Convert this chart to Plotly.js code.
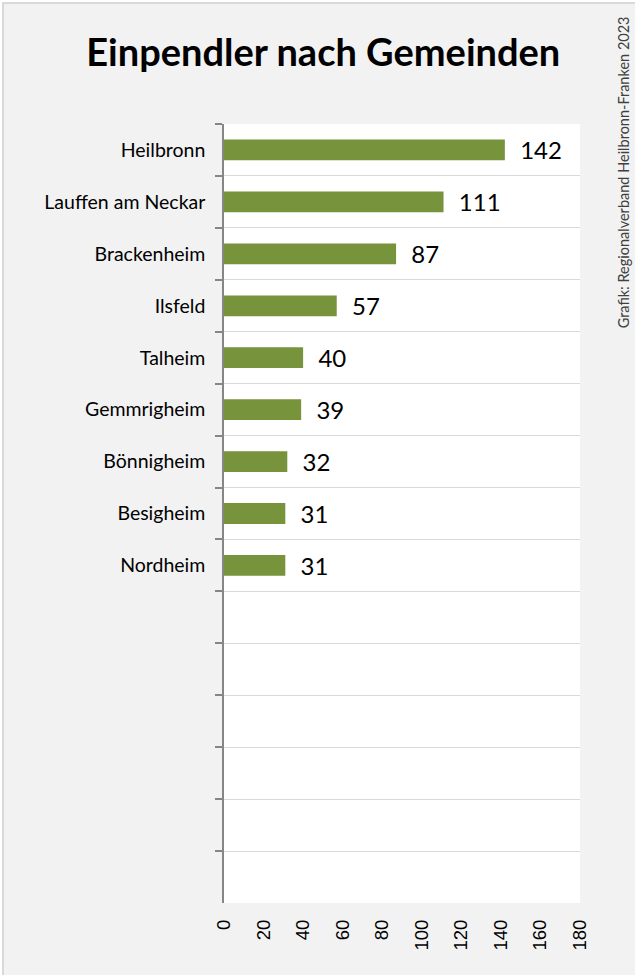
<!DOCTYPE html>
<html>
<head>
<meta charset="utf-8">
<script src="https://cdn.plot.ly/plotly-3.0.1.min.js"></script>
<style>
  html, body { margin: 0; padding: 0; background: #ffffff; }
  #wrap { position: absolute; left: 2px; top: 2px; width: 633px; height: 973px;
          border-left: 2px solid #d9d9d9; border-top: 2px solid #d9d9d9; box-sizing: border-box; background: #f2f2f2; }
  #chart { position: absolute; left: 0; top: 0; width: 631px; height: 971px; }
</style>
</head>
<body>
<div id="wrap"><div id="chart"></div></div>
<script>
// Data
const categories = ["Heilbronn", "Lauffen am Neckar", "Brackenheim", "Ilsfeld", "Talheim",
                    "Gemmrigheim", "Bönnigheim", "Besigheim", "Nordheim"];
const values = [142, 111, 87, 57, 40, 39, 32, 31, 31];
const emptySlots = 6;
const xTicks = [0, 20, 40, 60, 80, 100, 120, 140, 160, 180];
const titleText = "Einpendler nach Gemeinden";
const sourceText = "Grafik: Regionalverband Heilbronn-Franken 2023";

// Placeholder (blank) categories for the empty slots
const blanks = [];
for (let i = 1; i <= emptySlots; i++) blanks.push("\u200b".repeat(i));
const allCats = categories.concat(blanks);

const trace = {
  type: "bar",
  orientation: "h",
  x: values,
  y: categories,
  width: 0.4,
  marker: { color: "#77933c" },
  text: values.map(v => "\u00a0\u00a0" + v),
  textposition: "outside",
  constraintext: "none",
  textfont: { family: "Lato, 'Open Sans', sans-serif", size: 24, color: "#000000" },
  cliponaxis: false,
  hoverinfo: "x+y"
};

const layout = {
  width: 631,
  height: 971,
  paper_bgcolor: "#f2f2f2",
  plot_bgcolor: "#ffffff",
  margin: { l: 220, r: 55, t: 120, b: 72 },
  showlegend: false,
  title: {
    text: "<b>" + titleText + "</b>",
    font: { family: "Lato, 'Open Sans', sans-serif", size: 38, color: "#000000" },
    xref: "container", yref: "container",
    x: 0.506, xanchor: "center",
    y: 0.950, yanchor: "middle"
  },
  xaxis: {
    range: [0, 180],
    tickmode: "array",
    tickvals: xTicks,
    ticktext: xTicks.map(String),
    tickangle: -90,
    tickfont: { family: "'Liberation Sans', Arial, sans-serif", size: 18.5, color: "#000000" },
    showgrid: false,
    zeroline: false,
    showline: false,
    ticks: "",
    ticklabelstandoff: 12,
    fixedrange: true
  },
  yaxis: {
    type: "category",
    categoryorder: "array",
    categoryarray: allCats,
    range: [allCats.length - 0.5, -0.5],
    tickson: "boundaries",
    dtick: 1,
    ticks: "outside",
    ticklen: 7,
    tickwidth: 1.5,
    tickcolor: "#868686",
    showline: true,
    linecolor: "#868686",
    linewidth: 1.5,
    showgrid: true,
    gridcolor: "#d9d9d9",
    gridwidth: 1,
    zeroline: false,
    tickfont: { family: "Lato, 'Open Sans', sans-serif", size: 19.5, color: "#000000" },
    ticklabelstandoff: 13,
    fixedrange: true
  },
  annotations: [{
    text: sourceText,
    xref: "paper", yref: "paper",
    x: 1.1208, y: 0.938,
    xanchor: "center", yanchor: "middle",
    textangle: -90,
    showarrow: false,
    font: { family: "Lato, 'Open Sans', sans-serif", size: 14.5, color: "#404040" }
  }]
};

Plotly.newPlot("chart", [trace], layout, { displayModeBar: false, staticPlot: false });
</script>
</body>
</html>
